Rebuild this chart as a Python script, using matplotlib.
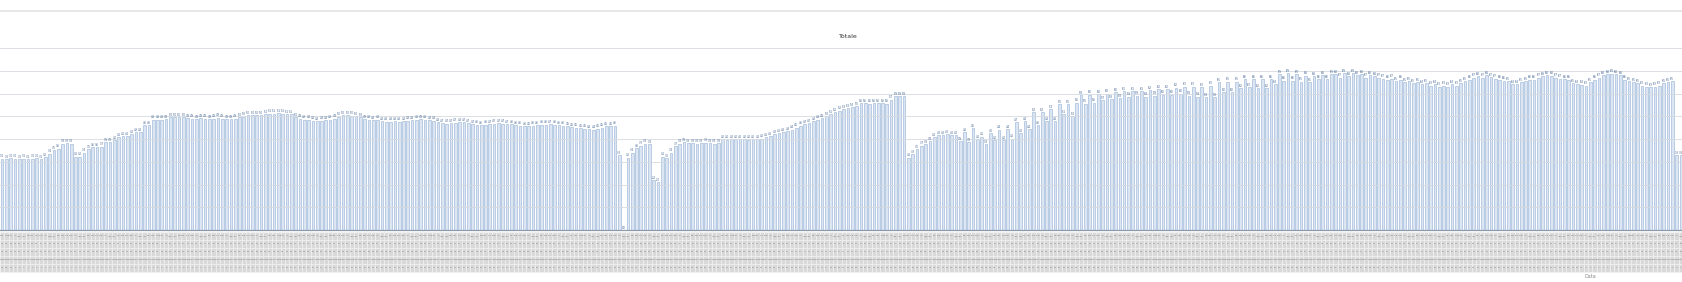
import matplotlib
matplotlib.use("Agg")
import matplotlib.pyplot as plt
import numpy as np
import pandas as pd

# daily totals (one gridline = 1 unit)
totale = [
    3.14, 3.12, 3.15, 3.13, 3.11, 3.14, 3.12, 3.13, 3.15, 3.12,
    3.20, 3.36, 3.50, 3.58, 3.80, 3.82, 3.80, 3.23, 3.23, 3.40,
    3.55, 3.63, 3.63, 3.67, 3.85, 3.87, 3.95, 4.07, 4.12, 4.12,
    4.20, 4.30, 4.30, 4.60, 4.60, 4.84, 4.84, 4.84, 4.86, 4.97,
    4.97, 4.96, 4.97, 4.92, 4.90, 4.88, 4.92, 4.90, 4.88, 4.90,
    4.93, 4.90, 4.88, 4.86, 4.90, 4.95, 4.98, 5.04, 5.04, 5.05,
    5.04, 5.10, 5.12, 5.12, 5.13, 5.12, 5.10, 5.08, 4.95, 4.90,
    4.85, 4.85, 4.80, 4.78, 4.80, 4.82, 4.85, 4.90, 4.98, 5.04,
    5.04, 5.03, 5.00, 4.95, 4.88, 4.85, 4.82, 4.85, 4.78, 4.76,
    4.76, 4.78, 4.76, 4.78, 4.80, 4.82, 4.85, 4.86, 4.85, 4.83,
    4.80, 4.75, 4.70, 4.68, 4.70, 4.72, 4.75, 4.73, 4.70, 4.66,
    4.63, 4.60, 4.62, 4.65, 4.68, 4.70, 4.68, 4.66, 4.64, 4.60,
    4.58, 4.56, 4.55, 4.58, 4.60, 4.62, 4.63, 4.65, 4.62, 4.60,
    4.58, 4.55, 4.52, 4.50, 4.48, 4.45, 4.42, 4.40, 4.45, 4.50,
    4.55, 4.55, 4.58, 3.30, 0.00, 3.18, 3.40, 3.60, 3.70, 3.80,
    3.78, 2.20, 2.10, 3.23, 3.15, 3.40, 3.69, 3.80, 3.85, 3.82,
    3.82, 3.80, 3.82, 3.83, 3.82, 3.80, 3.82, 3.98, 3.97, 3.98,
    3.98, 3.99, 3.98, 3.97, 3.98, 4.00, 4.02, 4.08, 4.12, 4.20,
    4.25, 4.30, 4.35, 4.40, 4.50, 4.58, 4.65, 4.70, 4.78, 4.85,
    4.92, 5.00, 5.10, 5.18, 5.25, 5.30, 5.35, 5.40, 5.45, 5.57,
    5.57, 5.56, 5.57, 5.58, 5.57, 5.56, 5.72, 5.88, 5.88, 5.87,
    3.18, 3.32, 3.54, 3.70, 3.76, 3.91, 4.07, 4.16, 4.16, 4.20,
    4.16, 4.16, 3.90, 4.29, 3.85, 4.47, 3.98, 4.10, 3.76, 4.25,
    3.95, 4.40, 3.95, 4.42, 4.02, 4.73, 4.25, 4.79, 4.42, 5.17,
    4.60, 5.17, 4.79, 5.30, 4.79, 5.53, 5.09, 5.53, 5.00, 5.60,
    5.93, 5.55, 5.95, 5.60, 5.98, 5.70, 6.00, 5.75, 6.05, 5.80,
    6.10, 5.85, 6.10, 5.90, 6.10, 5.85, 6.15, 5.90, 6.20, 5.95,
    6.20, 5.95, 6.25, 6.00, 6.30, 5.90, 6.30, 5.85, 6.27, 5.84,
    6.34, 5.84, 6.49, 6.05, 6.52, 6.05, 6.52, 6.22, 6.64, 6.27,
    6.64, 6.22, 6.64, 6.22, 6.64, 6.42, 6.86, 6.56, 6.90, 6.56,
    6.86, 6.52, 6.78, 6.49, 6.75, 6.64, 6.81, 6.64, 6.86, 6.85,
    6.70, 6.90, 6.75, 6.90, 6.80, 6.85, 6.70, 6.80, 6.75, 6.70,
    6.65, 6.60, 6.65, 6.55, 6.60, 6.50, 6.55, 6.45, 6.50, 6.40,
    6.45, 6.35, 6.40, 6.30, 6.35, 6.30, 6.40, 6.35, 6.45, 6.55,
    6.60, 6.70, 6.75, 6.70, 6.80, 6.72, 6.65, 6.60, 6.56, 6.55,
    6.42, 6.40, 6.50, 6.55, 6.60, 6.60, 6.70, 6.75, 6.80, 6.78,
    6.70, 6.65, 6.62, 6.60, 6.45, 6.40, 6.38, 6.35, 6.50, 6.60,
    6.70, 6.80, 6.85, 6.87, 6.85, 6.80, 6.60, 6.55, 6.50, 6.45,
    6.35, 6.30, 6.28, 6.30, 6.35, 6.45, 6.50, 6.55, 3.30, 3.30,
]

# category axis: one bar per day
giorni = pd.date_range("2021-01-01", periods=len(totale), freq="D")
nomi_giorno = ["lun", "mar", "mer", "gio", "ven", "sab", "dom"]
righe_tabella = [
    [nomi_giorno[d.weekday()] for d in giorni],
    [f"{d.day:02d}" for d in giorni],
    [f"{d.month:02d}" for d in giorni],
    [str(d.year) for d in giorni],
    [f"{d.isocalendar()[1]}" for d in giorni],
]

W, H = 1683, 282
fig = plt.figure(figsize=(W / 100, H / 100), dpi=100)
fig.patch.set_facecolor("white")

# axes from y=48 px (gridline 8) down to y=230 px (baseline)
ax = fig.add_axes([0, 1 - 230 / H, 1, (230 - 48) / H])
x = np.arange(len(totale))
bars = ax.bar(x, totale, width=0.62, color="#dce6f2", edgecolor="#93b0d6",
              linewidth=0.4, zorder=2)
ax.bar_label(bars, labels=[f"{v:.1f}" for v in totale], fontsize=1.8,
             color="#2f5488", padding=0.3)

ax.set_xlim(-0.5, len(totale) - 0.5)
ax.set_ylim(0, 8)
ax.set_yticks(np.arange(0, 9, 1))
# gridlines show through the pale bars
ax.yaxis.grid(True, color="#d6dae0", linewidth=0.6, zorder=3)
ax.set_axisbelow(False)
ax.tick_params(left=False, labelleft=False, bottom=False, labelbottom=False)
for s in ["top", "left", "right"]:
    ax.spines[s].set_visible(False)
ax.spines["bottom"].set_color("#8c99ad")
ax.spines["bottom"].set_linewidth(0.9)

# data table under the bars
tab = ax.table(cellText=righe_tabella, cellLoc="center",
               bbox=[0, -42 / 182, 1, 40 / 182])
tab.auto_set_font_size(False)
tab.set_fontsize(1.6)
for cell in tab.get_celld().values():
    cell.set_facecolor("#d9d9d9")
    cell.set_edgecolor("#f4f4f4")
    cell.set_linewidth(0.4)
    cell.get_text().set_color("#808080")

# chart frame line and title
fig.add_artist(plt.Line2D([0, 1], [1 - 11 / H, 1 - 11 / H], color="#e3e3e3",
                          linewidth=1.2))
fig.text(848 / W, 1 - 37 / H, "Totale", fontsize=4.5, color="#333333",
         ha="center", va="center")
fig.text(1590 / W, 1 - 277 / H, "Data", fontsize=3.5, color="#888888",
         ha="center", va="center")

fig.savefig("out.png", dpi=100, facecolor="white")
